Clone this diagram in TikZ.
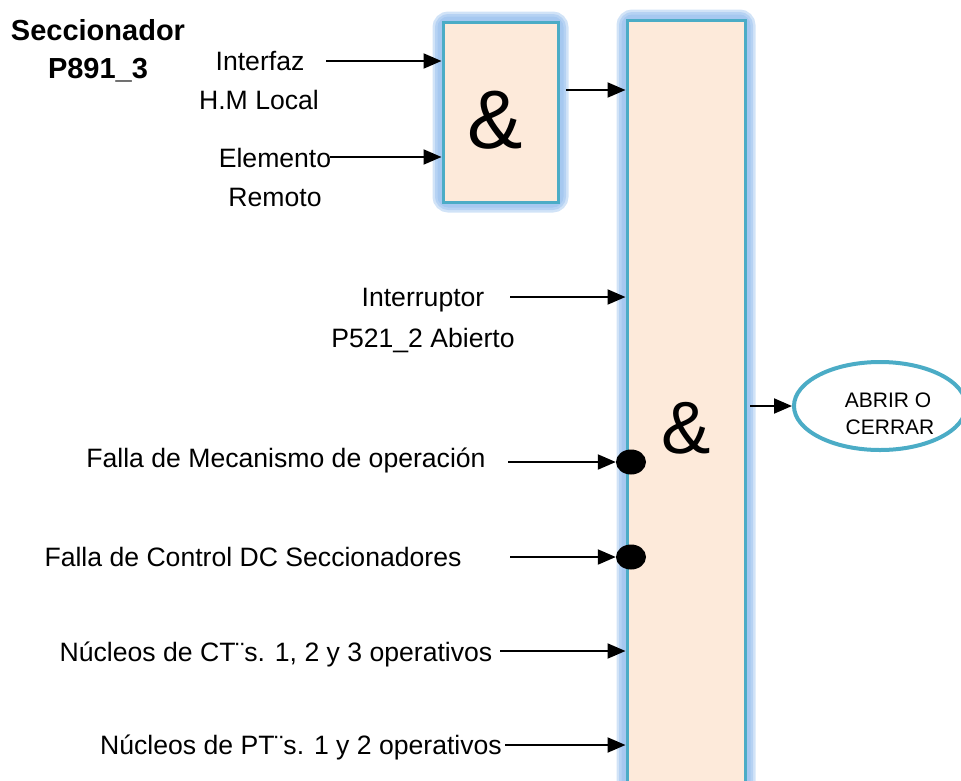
\documentclass[tikz,border=0pt]{standalone}
\usepackage{fontspec}
\setmainfont{Liberation Sans}
\usetikzlibrary{arrows.meta,shapes.geometric,calc,backgrounds}
\definecolor{boxfill}{HTML}{FDEADA}
\definecolor{boxline}{HTML}{4BACC6}
\definecolor{glowc}{HTML}{8DB9EC}
\begin{document}
\begin{tikzpicture}[x=1pt,y=-1pt,
  lbl/.style={font=\fontsize{26.6}{30}\selectfont, inner sep=0pt, anchor=center},
  bold/.style={font=\fontsize{29}{32}\selectfont\bfseries, inner sep=0pt, anchor=center},
  small/.style={font=\fontsize{21}{24}\selectfont, inner sep=0pt, anchor=center},
  arr/.style={line width=2pt,-{Triangle[length=18pt,width=15pt]}},
  gate/.style={draw=boxline,line width=3pt,fill=boxfill,inner sep=0pt},
  glow/.style={draw=glowc,line width=#1,opacity=0.4,rounded corners=7pt},
  bub/.style={ellipse,fill=black,minimum width=30pt,minimum height=25pt,inner sep=0pt}
]
\useasboundingbox (0,0) rectangle (961,780);

% gates
\node[gate,minimum width=115pt,minimum height=180pt] (sm) at (500.5,112) {};
\node[font=\fontsize{83}{83}\selectfont,inner sep=0pt] (amp1) at (495,120) {\&};
\node[gate,minimum width=118pt,minimum height=790pt] (big) at (686,415) {};
\node[font=\fontsize{74}{74}\selectfont,inner sep=0pt] (amp2) at (686,428) {\&};

\begin{scope}[on background layer]
  \foreach \w in {18,13,8} {
    \draw[glow=\w pt] (sm.south west) rectangle (sm.north east);
    \draw[glow=\w pt] (big.south west) rectangle (big.north east);
  }
\end{scope}

% titles
\node[bold] (t1) at (98,30) {Seccionador};
\node[bold] (t2) at (98,70) {P891\_3};

% labels
\node[lbl] (l1) at (260,61) {Interfaz};
\node[lbl] (l1b) at (259,100) {H.M Local};
\node[lbl] (l2) at (275,158) {Elemento};
\node[lbl] (l2b) at (275,197) {Remoto};
\node[lbl] (l3) at (423,300) {Interruptor};
\node[lbl] (l3b) at (423,340) {P521\_2 Abierto};
\node[lbl] (l4) at (286,460) {Falla de Mecanismo de operación};
\node[lbl] (l5) at (253,557) {Falla de Control DC Seccionadores};
\node[lbl] (l6) at (276,654) {Núcleos de CT¨s. 1, 2 y 3 operativos};
\node[lbl] (l7) at (301,747) {Núcleos de PT¨s. 1 y 2 operativos};

% output
\node[draw=boxline,line width=4pt,ellipse,minimum width=172pt,minimum height=88pt] (out) at (880,406) {};
\node[small] (o1) at (888,400) {ABRIR O};
\node[small] (o2) at (890,427) {CERRAR};

% bubbles
\node[bub] (b1) at (631,462) {};
\node[bub] (b2) at (631,557) {};

% start coordinates
\coordinate (s1) at (326,61);
\coordinate (s2) at (330,157);
\coordinate (s0) at (566,90);
\coordinate (s3) at (510,297);
\coordinate (s4) at (508,462);
\coordinate (s5) at (510,557);
\coordinate (s6) at (500,651);
\coordinate (s7) at (505,745);
\coordinate (s8) at (750,406);

\draw[arr] (s1) -- (s1 -| sm.west);
\draw[arr] (s2) -- (s2 -| sm.west);
\draw[arr] (s0) -- (s0 -| big.west);
\draw[arr] (s3) -- (s3 -| big.west);
\draw[arr] (s4) -- (b1.west);
\draw[arr] (s5) -- (b2.west);
\draw[arr] (s6) -- (s6 -| big.west);
\draw[arr] (s7) -- (s7 -| big.west);
\draw[arr] (s8) -- (out.west);
\end{tikzpicture}
\end{document}
